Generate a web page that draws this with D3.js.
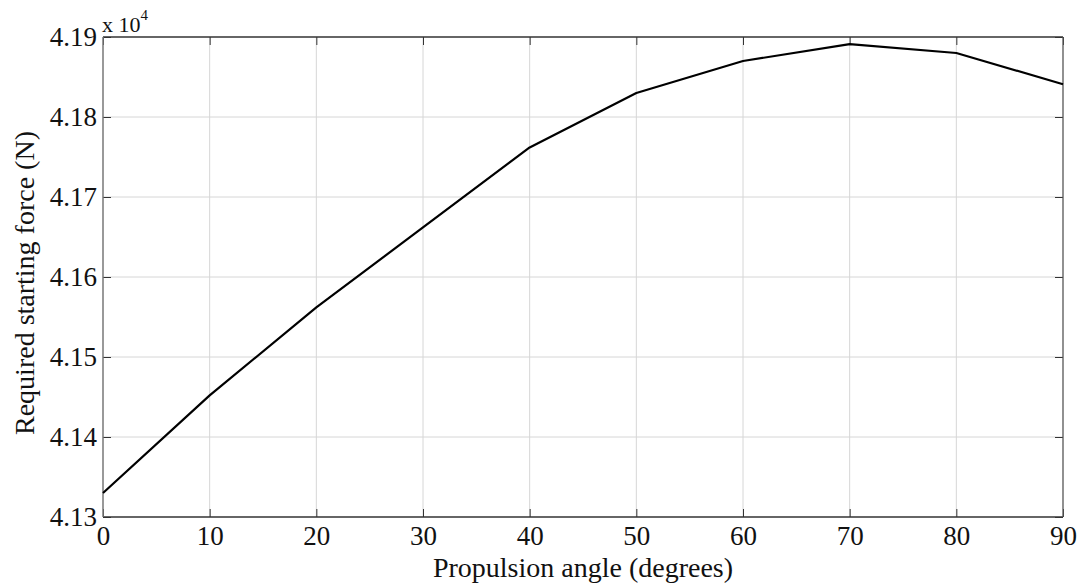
<!DOCTYPE html>
<html>
<head>
<meta charset="utf-8">
<script src="https://cdn.jsdelivr.net/npm/d3@7"></script>
<style>
  html, body { margin: 0; padding: 0; background: #fff; }
  svg { display: block; }
  text { font-family: "Liberation Serif", "Times New Roman", serif; fill: #111; }
</style>
</head>
<body>
<svg id="chart" width="1078" height="586"></svg>
<script>
// Data (force in units of 1e4 N)
const angles = [0, 10, 20, 30, 40, 50, 60, 70, 80, 90];
const force = [4.1330, 4.1452, 4.1562, 4.1662, 4.1762, 4.1830, 4.1870, 4.1891, 4.1880, 4.1841];
const xTicks = [0, 10, 20, 30, 40, 50, 60, 70, 80, 90];
const yTicks = [4.13, 4.14, 4.15, 4.16, 4.17, 4.18, 4.19];
const xTitle = "Propulsion angle (degrees)";
const yTitle = "Required starting force (N)";

const svg = d3.select("#chart");
const m = { left: 103, right: 1063, top: 37, bottom: 517 };
const serif = '"Liberation Serif", "Times New Roman", serif';

const x = d3.scaleLinear().domain([0, 90]).range([m.left, m.right]);
const y = d3.scaleLinear().domain([4.13, 4.19]).range([m.bottom, m.top]);

// grid
const g = svg.append("g");
g.selectAll(".vg").data(xTicks.slice(1, -1)).enter().append("line")
  .attr("x1", d => x(d)).attr("x2", d => x(d))
  .attr("y1", m.top).attr("y2", m.bottom)
  .attr("stroke", "#d6d6d6").attr("stroke-width", 1);
g.selectAll(".hg").data(yTicks.slice(1, -1)).enter().append("line")
  .attr("x1", m.left).attr("x2", m.right)
  .attr("y1", d => y(d)).attr("y2", d => y(d))
  .attr("stroke", "#d6d6d6").attr("stroke-width", 1);

// axes with inward ticks
const tl = 8;
const bottomAxis = d3.axisBottom(x).tickValues(xTicks).tickSizeInner(-tl).tickSizeOuter(0).tickPadding(9).tickFormat(d3.format("d"));
const topAxis = d3.axisTop(x).tickValues(xTicks).tickSizeInner(-tl).tickSizeOuter(0).tickFormat("");
const leftAxis = d3.axisLeft(y).tickValues(yTicks).tickSizeInner(-tl).tickSizeOuter(0).tickPadding(6).tickFormat(d3.format(".2f"));
const rightAxis = d3.axisRight(y).tickValues(yTicks).tickSizeInner(-tl).tickSizeOuter(0).tickFormat("");

function style(sel) {
  sel.attr("font-family", serif).attr("font-size", 27);
  sel.select(".domain").remove();
  sel.selectAll(".tick line").attr("stroke", "#333").attr("stroke-width", 1);
  sel.selectAll(".tick text").attr("fill", "#111");
}
svg.append("g").attr("transform", `translate(0,${m.bottom})`).call(bottomAxis).call(style);
svg.append("g").attr("transform", `translate(0,${m.top})`).call(topAxis).call(style);
svg.append("g").attr("transform", `translate(${m.left},0)`).call(leftAxis).call(style);
svg.append("g").attr("transform", `translate(${m.right},0)`).call(rightAxis).call(style);

// box
svg.append("line").attr("x1", m.left).attr("x2", m.right).attr("y1", m.top).attr("y2", m.top).attr("stroke", "#333").attr("stroke-width", 1.3);
svg.append("line").attr("x1", m.left).attr("x2", m.right).attr("y1", m.bottom).attr("y2", m.bottom).attr("stroke", "#333").attr("stroke-width", 1.3);
svg.append("line").attr("x1", m.left).attr("x2", m.left).attr("y1", m.top).attr("y2", m.bottom).attr("stroke", "#777").attr("stroke-width", 1.5);
svg.append("line").attr("x1", m.right).attr("x2", m.right).attr("y1", m.top).attr("y2", m.bottom).attr("stroke", "#555").attr("stroke-width", 1.3);

// line
const line = d3.line().x((d, i) => x(angles[i])).y(d => y(d));
svg.append("path").datum(force).attr("d", line)
  .attr("fill", "none").attr("stroke", "#000").attr("stroke-width", 2.2).attr("stroke-linejoin", "round");

// exponent label
const ex = svg.append("text").attr("x", m.left - 1).attr("y", 32).style("font-size", "22px");
ex.append("tspan").text("x 10");
ex.append("tspan").attr("dy", -12).style("font-size", "15px").text("4");

// titles
svg.append("text").attr("x", (m.left + m.right) / 2).attr("y", 577)
  .attr("text-anchor", "middle").style("font-size", "28px").text(xTitle);
svg.append("text").attr("transform", `translate(34,${(m.top + m.bottom) / 2 + 6}) rotate(-90)`)
  .attr("text-anchor", "middle").style("font-size", "28px").text(yTitle);
</script>
</body>
</html>
